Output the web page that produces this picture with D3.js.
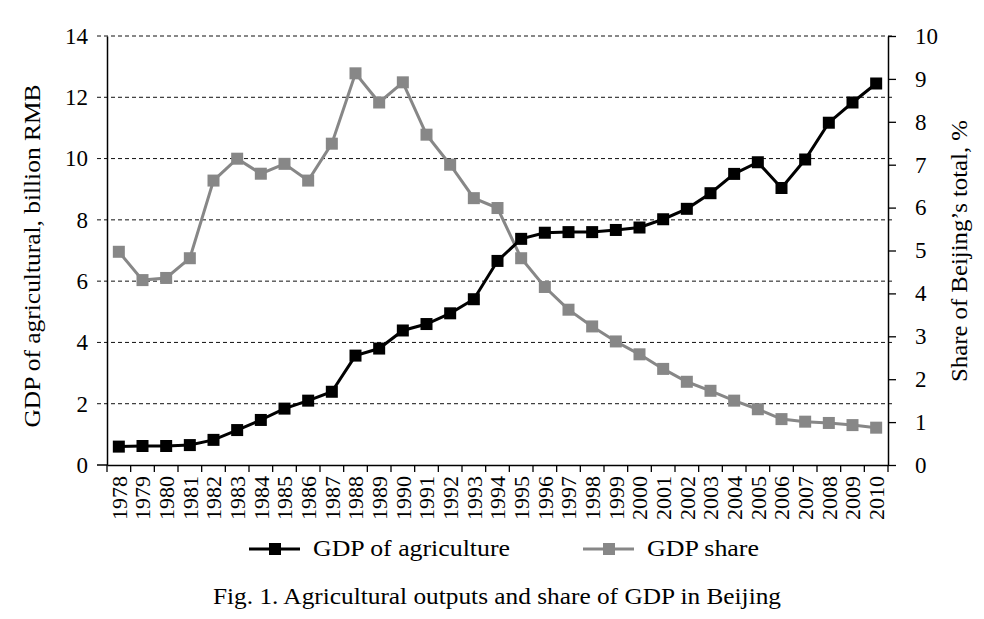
<!DOCTYPE html>
<html><head><meta charset="utf-8">
<script src="https://cdn.jsdelivr.net/npm/d3@7"></script>
<style>body{margin:0;background:#fff}svg{display:block}text{font-family:"Liberation Serif","DejaVu Serif",serif}</style>
</head><body>
<svg id="c" width="984" height="619"></svg>
<script>
const years = d3.range(1978, 2011).map(String);
const gdpAgri = [0.6,0.62,0.62,0.65,0.82,1.14,1.47,1.84,2.1,2.39,3.57,3.8,4.39,4.6,4.95,5.41,6.66,7.38,7.58,7.6,7.6,7.67,7.75,8.02,8.36,8.87,9.5,9.88,9.04,9.97,11.17,11.83,12.45];
const gdpShare = [4.97,4.31,4.36,4.82,6.63,7.14,6.79,7.02,6.63,7.49,9.13,8.45,8.92,7.70,7.0,6.22,5.99,4.82,4.15,3.62,3.23,2.88,2.58,2.24,1.94,1.73,1.5,1.30,1.07,1.01,0.98,0.93,0.87];
const leftTicks = [0,2,4,6,8,10,12,14];
const rightTicks = [0,1,2,3,4,5,6,7,8,9,10];
const seriesNames = ["GDP of agriculture","GDP share"];

const svg = d3.select("#c");
const L=107, R=888, T=36, B=465;
const x = d3.scaleBand().domain(years).range([L,R]);
const yL = d3.scaleLinear().domain([0,14]).range([B,T]);
const yR = d3.scaleLinear().domain([0,10]).range([B,T]);

// dashed gridlines (extend left of axis as ticks)
svg.append("g").selectAll("line").data(leftTicks.filter(d=>d>0)).join("line")
  .attr("x1",97).attr("x2",R+5).attr("y1",d=>yL(d)).attr("y2",d=>yL(d))
  .attr("stroke","#111").attr("stroke-width",1).attr("stroke-dasharray","4,3");

// axes
const gl = svg.append("g").attr("transform",`translate(${L},0)`)
  .call(d3.axisLeft(yL).tickValues(leftTicks).tickSize(0).tickPadding(19).tickSizeOuter(0));
gl.selectAll(".tick line").remove();
const gr = svg.append("g").attr("transform",`translate(${R},0)`)
  .call(d3.axisRight(yR).tickValues(rightTicks).tickSize(8).tickPadding(19).tickSizeOuter(0));
const gx = svg.append("g").attr("transform",`translate(0,${B})`)
  .call(d3.axisBottom(x).tickSize(0).tickPadding(0).tickSizeOuter(0));
// zero tick on left
svg.append("line").attr("x1",97).attr("x2",L).attr("y1",B).attr("y2",B).attr("stroke","#000").attr("stroke-width",1.5);
// x tick marks at band boundaries
svg.append("g").selectAll("line").data(years.concat(["end"])).join("line")
  .attr("x1",(d,i)=>L+i*x.step()).attr("x2",(d,i)=>L+i*x.step())
  .attr("y1",B).attr("y2",B+7).attr("stroke","#000").attr("stroke-width",1.3);
[gl,gr,gx].forEach(g=>{
  g.select(".domain").attr("stroke","#000").attr("stroke-width",1.5);
  g.selectAll(".tick line").attr("stroke","#000").attr("stroke-width",1.3);
  g.selectAll("text").attr("font-size",23).attr("fill","#000").style("font-family",'"Liberation Serif",serif');
});
gx.selectAll("text").attr("font-size",22).attr("transform","rotate(-90)")
  .attr("text-anchor","end").attr("dy","0.35em").attr("x",-11).attr("y",0);

// lines
const cx = (i)=>x(years[i])+x.bandwidth()/2;
const lineL = d3.line().x((d,i)=>cx(i)).y(d=>yL(d));
const lineR = d3.line().x((d,i)=>cx(i)).y(d=>yR(d));
const grey="#878787";
svg.append("path").datum(gdpShare).attr("d",lineR).attr("fill","none").attr("stroke",grey).attr("stroke-width",3);
svg.append("g").selectAll("rect").data(gdpShare).join("rect")
  .attr("x",(d,i)=>cx(i)-6).attr("y",d=>yR(d)-6)
  .attr("width",12).attr("height",12).attr("fill",grey);
svg.append("path").datum(gdpAgri).attr("d",lineL).attr("fill","none").attr("stroke","#000").attr("stroke-width",3);
svg.append("g").selectAll("rect").data(gdpAgri).join("rect")
  .attr("x",(d,i)=>cx(i)-6).attr("y",d=>yL(d)-6)
  .attr("width",12).attr("height",12).attr("fill","#000");

// axis titles
svg.append("text").attr("transform","translate(40,256) rotate(-90)").attr("text-anchor","middle")
  .attr("font-size",23).attr("textLength",343).attr("lengthAdjust","spacingAndGlyphs")
  .text("GDP of agricultural, billion RMB");
svg.append("text").attr("transform","translate(967,251) rotate(-90)").attr("text-anchor","middle")
  .attr("font-size",23).attr("textLength",262).attr("lengthAdjust","spacingAndGlyphs")
  .text("Share of Beijing’s total, %");

// legend
const leg = [{x:249,c:"#000",w:197},{x:583,c:grey,w:112}];
leg.forEach((l,i)=>{
  svg.append("line").attr("x1",l.x).attr("x2",l.x+51).attr("y1",549).attr("y2",549).attr("stroke",l.c).attr("stroke-width",3);
  svg.append("rect").attr("x",l.x+20).attr("y",543).attr("width",12).attr("height",12).attr("fill",l.c);
  svg.append("text").attr("x",l.x+64).attr("y",556).attr("font-size",23)
    .attr("textLength",l.w).attr("lengthAdjust","spacingAndGlyphs").text(seriesNames[i]);
});
svg.append("text").attr("x",213).attr("y",604).attr("font-size",23)
  .attr("textLength",568).attr("lengthAdjust","spacingAndGlyphs")
  .text("Fig. 1. Agricultural outputs and share of GDP in Beijing");
</script>
</body></html>
